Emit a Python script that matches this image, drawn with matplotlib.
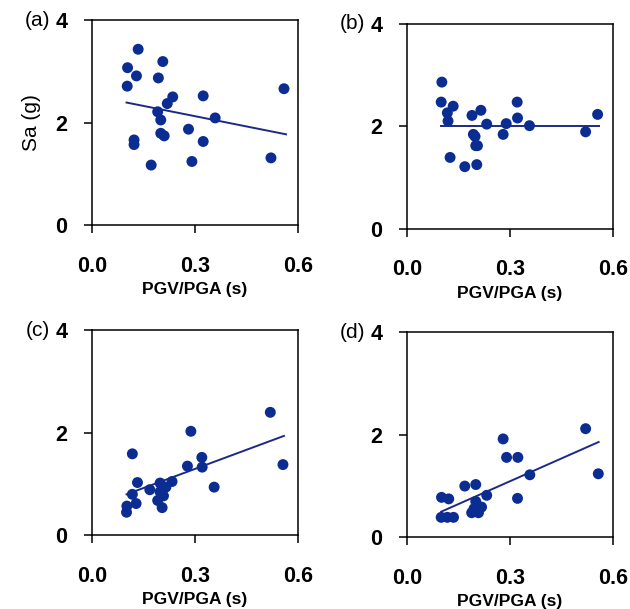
import numpy as np
import matplotlib
matplotlib.use("Agg")
import matplotlib.pyplot as plt

plt.rcParams['font.family'] = ['Liberation Sans', 'DejaVu Sans']

# PGV/PGA (s) and Sa (g)
xa = [0.134, 0.103, 0.129, 0.102, 0.206, 0.193, 0.235, 0.219, 0.324, 0.359, 0.191,
      0.200, 0.200, 0.210, 0.281, 0.122, 0.122, 0.324, 0.172, 0.291, 0.522, 0.560]
ya = [3.43, 3.07, 2.91, 2.71, 3.19, 2.87, 2.50, 2.37, 2.52, 2.09, 2.21,
      2.05, 1.79, 1.74, 1.87, 1.66, 1.57, 1.63, 1.17, 1.24, 1.31, 2.66]

xb = [0.101, 0.099, 0.134, 0.117, 0.119, 0.125, 0.168, 0.189, 0.215, 0.232, 0.193,
      0.200, 0.203, 0.289, 0.280, 0.321, 0.322, 0.357, 0.521, 0.556, 0.198, 0.205]
yb = [2.86, 2.47, 2.39, 2.26, 2.10, 1.39, 1.21, 2.21, 2.31, 2.04, 1.84,
      1.62, 1.25, 2.05, 1.84, 2.47, 2.16, 2.01, 1.89, 2.23, 1.80, 1.62]

xc = [0.520, 0.288, 0.117, 0.320, 0.557, 0.278, 0.321, 0.132, 0.233, 0.198, 0.168,
      0.356, 0.215, 0.198, 0.117, 0.208, 0.128, 0.191, 0.101, 0.100, 0.204]
yc = [2.40, 2.03, 1.59, 1.52, 1.38, 1.35, 1.33, 1.03, 1.05, 1.02, 0.89,
      0.94, 0.94, 0.85, 0.80, 0.77, 0.62, 0.68, 0.57, 0.45, 0.54]

xd = [0.521, 0.280, 0.290, 0.323, 0.558, 0.358, 0.168, 0.200, 0.100, 0.121, 0.322,
      0.232, 0.200, 0.217, 0.195, 0.208, 0.188, 0.099, 0.117, 0.135]
yd = [2.12, 1.92, 1.56, 1.56, 1.24, 1.22, 1.00, 1.03, 0.78, 0.75, 0.76,
      0.82, 0.70, 0.59, 0.56, 0.48, 0.48, 0.39, 0.39, 0.39]

# trend line ends (x0, x1) and (y0, y1)
fit_x = [[0.100, 0.566], [0.099, 0.559], [0.100, 0.560], [0.099, 0.559]]
fit_y = [[2.39, 1.77], [2.00, 2.00], [0.80, 1.94], [0.50, 1.86]]

labels = ["(a)", "(b)", "(c)", "(d)"]
xs = [xa, xb, xc, xd]
ys = [ya, yb, yc, yd]

fig = plt.figure(figsize=(6.3, 6.09), dpi=100)
pos = [[0.1465, 0.6305, 0.326, 0.3366],
       [0.6465, 0.6245, 0.326, 0.3366],
       [0.1465, 0.1210, 0.326, 0.3366],
       [0.6465, 0.1177, 0.326, 0.3366]]

for i in range(4):
    ax = fig.add_axes(pos[i])
    ax.scatter(xs[i], ys[i], s=62, color="#0b2d92", edgecolors="none", zorder=3)
    ax.plot(fit_x[i], fit_y[i], color="#1c2a86", lw=1.4, zorder=2)
    ax.set_xlim(0, 0.6)
    ax.set_ylim(0, 4)
    ax.set_xticks([0.0, 0.3, 0.6])
    ax.set_xticklabels(["0.0", "0.3", "0.6"])
    ax.set_yticks([0, 2, 4])
    ax.set_yticklabels(["0", "2", "4"])
    ax.tick_params(direction="out", length=6, width=1.1, labelsize=15.5, pad=12)
    ax.tick_params(axis="x", pad=16)
    for lab in ax.get_xticklabels() + ax.get_yticklabels():
        lab.set_fontweight("bold")
        lab.set_clip_on(False)
    for sp in ax.spines.values():
        sp.set_linewidth(1.1)
    ax.set_xlabel("PGV/PGA (s)", fontsize=12.5, fontweight="bold", labelpad=4)
    ax.text(-0.205, 1.0, labels[i], transform=ax.transAxes, ha="right", va="center",
            fontsize=15)
    if i == 0:
        ax.set_ylabel("Sa (g)", fontsize=15, labelpad=10)

fig.savefig("out.png", dpi=100)
